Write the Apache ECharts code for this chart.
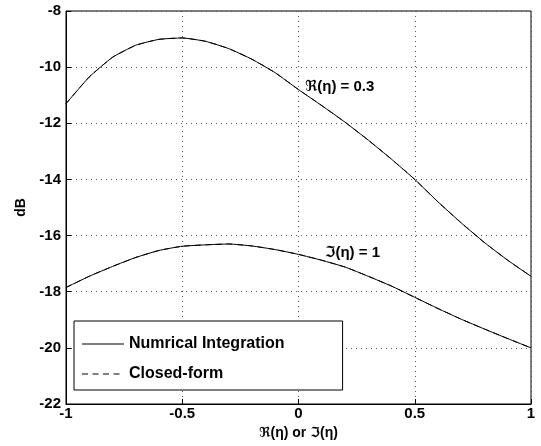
<!DOCTYPE html>
<html>
<head>
<meta charset="utf-8">
<script src="https://cdn.jsdelivr.net/npm/echarts@6/dist/echarts.min.js"></script>
<style>
html,body{margin:0;padding:0;background:#fff;}
#chart{width:541px;height:446px;}
</style>
</head>
<body>
<div id="chart"></div>
<script>
var xValues = [-1, -0.9, -0.8, -0.7, -0.6, -0.5, -0.4, -0.3, -0.2, -0.1, 0, 0.1, 0.2, 0.3, 0.4, 0.5, 0.6, 0.7, 0.8, 0.9, 1];
var reCurve = [-11.3, -10.35, -9.65, -9.22, -9.01, -8.96, -9.08, -9.34, -9.72, -10.2, -10.8, -11.37, -11.96, -12.6, -13.28, -14.0, -14.8, -15.55, -16.25, -16.88, -17.45];
var imCurve = [-17.85, -17.45, -17.1, -16.78, -16.53, -16.38, -16.33, -16.3, -16.37, -16.5, -16.67, -16.88, -17.12, -17.45, -17.8, -18.2, -18.6, -18.98, -19.33, -19.67, -20.0];
var seriesNames = ['Numrical Integration', 'Closed-form'];
var annotations = [
  {text: 'ℜ(η) = 0.3', x: 0.028, y: -10.7},
  {text: 'ℑ(η) = 1', x: 0.114, y: -16.6}
];
var xTitle = 'ℜ(η) or ℑ(η)';
var yTitle = 'dB';

function pairs(ys) { return xValues.map(function (x, i) { return [x, ys[i]]; }); }

var FONT = 'Liberation Sans, Arial, DejaVu Sans, sans-serif';
var chart = echarts.init(document.getElementById('chart'));

var SOLID_ICON = 'path://M0,0h42v1h-42z';
var DASH_ICON = 'path://M0,0h6v1h-6zM10.5,0h6v1h-6zM21,0h6v1h-6zM31.5,0h6v1h-6zM42,0h0v1h0z';

function lineSeries(name, ys, dashed, z, ann) {
  var s = {
    name: name,
    type: 'line',
    data: pairs(ys),
    symbol: 'none',
    showSymbol: false,
    smooth: 0.15,
    z: z,
    lineStyle: {color: '#000', width: 1, type: dashed ? [6, 4.5] : 'solid'},
    itemStyle: {color: '#000'},
    animation: false
  };
  if (ann) {
    s.markPoint = {
      symbol: 'circle', symbolSize: 0,
      data: [{coord: [ann.x, ann.y], value: ann.text}],
      label: {show: true, position: 'right', distance: 0, formatter: ann.text,
        color: '#000', fontFamily: FONT, fontWeight: 'bold', fontSize: 15},
      animation: false
    };
  }
  return s;
}

chart.setOption({
  backgroundColor: '#fff',
  animation: false,
  grid: {left: 66, right: 10, top: 11, bottom: 42, show: true, borderColor: '#000', borderWidth: 1, backgroundColor: 'transparent'},
  legend: {
    orient: 'vertical', left: 74, top: 321,
    data: [{name: seriesNames[0], icon: SOLID_ICON}, {name: seriesNames[1], icon: DASH_ICON}],
    itemWidth: 42, itemHeight: 14, itemGap: 14,
    symbolKeepAspect: true,
    padding: [15, 58, 8, 8],
    borderColor: '#000', borderWidth: 1, backgroundColor: '#fff',
    textStyle: {color: '#000', fontFamily: FONT, fontWeight: 'bold', fontSize: 16},
    selectedMode: false
  },
  xAxis: {
    type: 'value', min: -1, max: 1, interval: 0.5,
    name: xTitle, nameLocation: 'middle', nameGap: 21,
    nameTextStyle: {color: '#000', fontFamily: FONT, fontWeight: 'bold', fontSize: 14},
    axisLine: {show: true, onZero: false, lineStyle: {color: '#000'}},
    axisTick: {show: true, inside: true, length: 5, lineStyle: {color: '#000'}},
    axisLabel: {color: '#000', fontFamily: FONT, fontWeight: 'bold', fontSize: 15, margin: 2},
    splitLine: {show: true, lineStyle: {color: '#555', type: [1, 4], width: 1}}
  },
  yAxis: {
    type: 'value', min: -22, max: -8, interval: 2,
    name: yTitle, nameLocation: 'middle', nameGap: 36,
    nameTextStyle: {color: '#000', fontFamily: FONT, fontWeight: 'bold', fontSize: 14},
    axisLine: {show: true, onZero: false, lineStyle: {color: '#000'}},
    axisTick: {show: true, inside: true, length: 5, lineStyle: {color: '#000'}},
    axisLabel: {color: '#000', fontFamily: FONT, fontWeight: 'bold', fontSize: 15, margin: 5},
    splitLine: {show: true, lineStyle: {color: '#555', type: [1, 4], width: 1}}
  },
  series: [
    lineSeries(seriesNames[1], reCurve, true, 2),
    lineSeries(seriesNames[1], imCurve, true, 2),
    lineSeries(seriesNames[0], reCurve, false, 3, annotations[0]),
    lineSeries(seriesNames[0], imCurve, false, 3, annotations[1])
  ]
});
</script>
</body>
</html>
